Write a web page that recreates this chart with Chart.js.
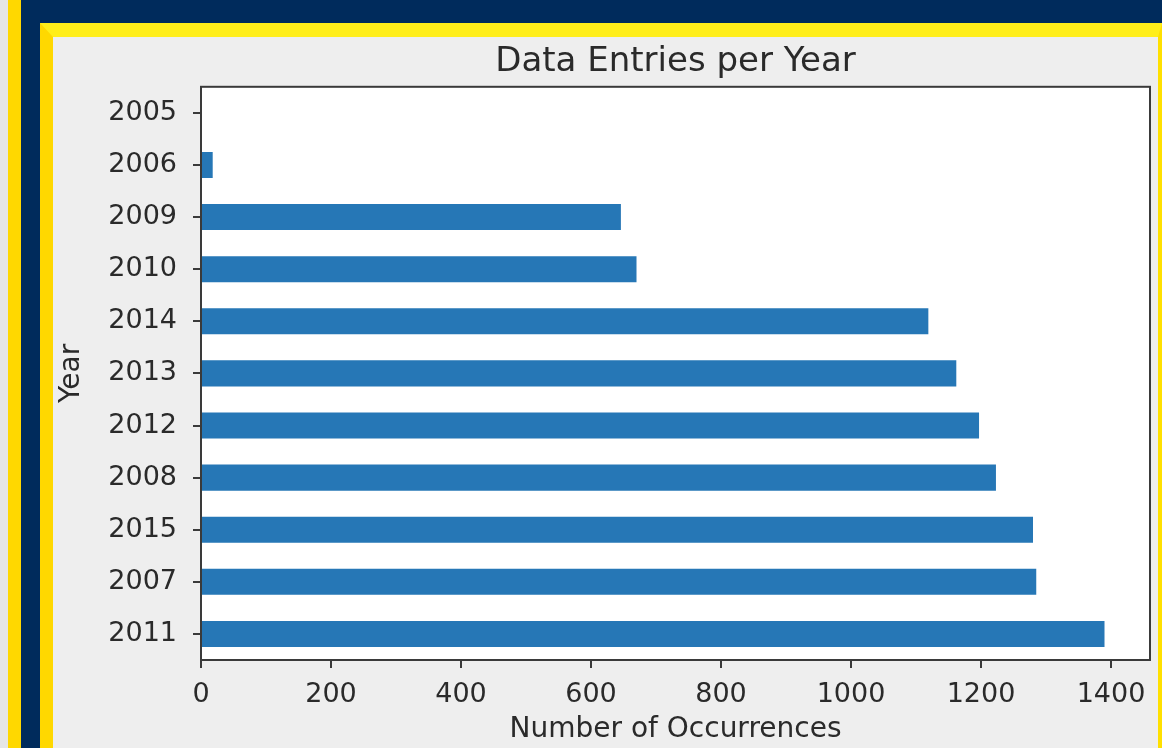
<!DOCTYPE html>
<html>
<head>
<meta charset="utf-8">
<script src="https://cdn.jsdelivr.net/npm/chart.js@4"></script>
<style>
  html, body { margin: 0; padding: 0; }
  body { width: 1162px; height: 748px; overflow: hidden; background: #e6e6e6; position: relative; }
  .edge { position: absolute; left: 8px; top: 0; width: 13px; height: 748px; background: #ffd800; }
  .navy { position: absolute; left: 21px; top: 0; right: 0; height: 748px; background: #002b5c; }
  .panel {
    position: absolute; left: 40px; top: 23px; width: 1105px; height: 711px;
    border-left: 13px solid #ffd800; border-top: 14px solid #ffee1a; border-right: 4px solid #ffe000;
    background: #eeeeee;
  }
  canvas { display: block; }
</style>
</head>
<body>
<div class="edge"></div>
<div class="navy"></div>
<div class="panel">
  <div style="width:1105px;height:711px;position:relative"><canvas id="chart"></canvas></div>
</div>
<script>
// values, top to bottom
const years = ['2005', '2006', '2009', '2010', '2014', '2013', '2012', '2008', '2015', '2007', '2011'];
const counts = [1, 18, 646, 670, 1119, 1162, 1197, 1223, 1280, 1285, 1390];
const xTicks = [0, 200, 400, 600, 800, 1000, 1200, 1400];

const axisColor = '#3a3a3a';
const textColor = '#2a2a2a';
const font = 'DejaVu Sans';

// white plot area + box on all four sides
const plotBox = {
    id: 'plotBox',
    beforeDraw(chart) {
        const a = chart.chartArea, ctx = chart.ctx;
        ctx.save();
        ctx.fillStyle = '#ffffff';
        ctx.fillRect(a.left, a.top, a.right - a.left, a.bottom - a.top);
        ctx.restore();
    },
    afterDraw(chart) {
        const a = chart.chartArea, ctx = chart.ctx;
        ctx.save();
        ctx.strokeStyle = axisColor;
        ctx.lineWidth = 2;
        ctx.strokeRect(a.left, a.top, a.right - a.left, a.bottom - a.top);
        ctx.restore();
    }
};

const ctx = document.getElementById('chart').getContext('2d');
new Chart(ctx, {
    type: 'bar',
    data: {
        labels: years,
        datasets: [{
            data: counts,
            backgroundColor: '#2677b6',
            barPercentage: 0.5,
            categoryPercentage: 1
        }]
    },
    options: {
        indexAxis: 'y',
        responsive: true,
        maintainAspectRatio: false,
        animation: false,
        layout: { padding: { top: 0, right: 8, bottom: 0, left: 0 } },
        plugins: {
            legend: { display: false },
            tooltip: { enabled: false },
            title: {
                display: true,
                fullSize: false,
                text: 'Data Entries per Year',
                color: textColor,
                font: { family: font, size: 34, weight: 'normal' },
                padding: { top: 5, bottom: 4 }
            }
        },
        scales: {
            x: {
                min: 0,
                max: 1460,
                afterBuildTicks(scale) {
                    scale.ticks = xTicks.map(v => ({ value: v }));
                },
                afterFit(scale) { scale.height = 88; },
                ticks: {
                    color: textColor,
                    font: { family: font, size: 27 },
                    padding: 11,
                    maxRotation: 0,
                    callback: v => String(v)
                },
                grid: { drawOnChartArea: false, drawTicks: true, tickLength: 8, color: axisColor, lineWidth: 2 },
                border: { display: true, color: axisColor, width: 2 },
                title: {
                    display: true,
                    text: 'Number of Occurrences',
                    color: textColor,
                    font: { family: font, size: 28 },
                    padding: { top: 0, bottom: 1 }
                }
            },
            y: {
                offset: true,
                afterFit(scale) { scale.width = 148; },
                ticks: {
                    color: textColor,
                    font: { family: font, size: 27 },
                    padding: 16
                },
                grid: { offset: false, drawOnChartArea: false, drawTicks: true, tickLength: 8, color: axisColor, lineWidth: 2 },
                border: { display: true, color: axisColor, width: 2 },
                title: {
                    display: true,
                    text: 'Year',
                    color: textColor,
                    font: { family: font, size: 28 },
                    padding: { top: 2, bottom: 0 }
                }
            }
        }
    },
    plugins: [plotBox]
});
</script>
</body>
</html>
